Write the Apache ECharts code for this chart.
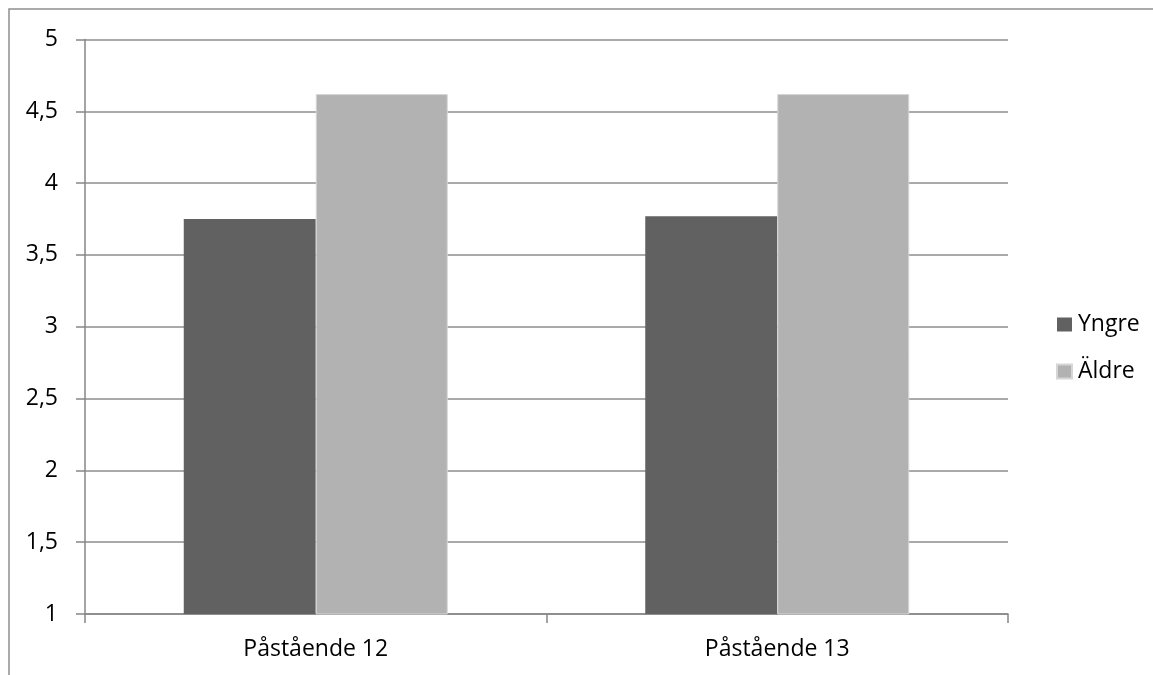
<!DOCTYPE html>
<html>
<head>
<meta charset="utf-8">
<script src="https://cdn.jsdelivr.net/npm/echarts@6/dist/echarts.min.js"></script>
<style>
  html, body { margin: 0; padding: 0; background: #fff; }
  #chart { width: 1153px; height: 675px; }
</style>
</head>
<body>
<div id="chart"></div>
<script>
// Mean scores per statement, younger vs older respondents
const categories = ['Påstående 12', 'Påstående 13'];
const yngre = [3.75, 3.77];
const aldre = [4.62, 4.62];
const seriesNames = ['Yngre', 'Äldre'];

const FONT = '"Open Sans", "Noto Sans", sans-serif';
const chart = echarts.init(document.getElementById('chart'), null, { renderer: 'canvas' });

chart.setOption({
  backgroundColor: '#ffffff',
  animation: false,
  graphic: [{
    type: 'rect',
    shape: { x: 9, y: 9, width: 1300, height: 800 },
    style: { fill: 'none', stroke: '#8e8e8e', lineWidth: 1.5 },
    silent: true
  }],
  grid: { left: 85, top: 39.5, right: 145, bottom: 61, containLabel: false },
  legend: {
    orient: 'vertical',
    left: 1051,
    top: 308,
    itemWidth: 15,
    itemHeight: 14,
    itemGap: 24,
    icon: 'rect',
    textStyle: { fontFamily: FONT, fontSize: 23, lineHeight: 23, color: '#000', padding: [0, 0, 0, 1] },
    data: seriesNames
  },
  xAxis: {
    type: 'category',
    data: categories,
    boundaryGap: true,
    axisLine: { lineStyle: { color: '#868686', width: 1.5 } },
    axisTick: { show: true, length: 9, lineStyle: { color: '#868686', width: 1.5 } },
    axisLabel: { fontFamily: FONT, fontSize: 23, color: '#000', margin: 24 }
  },
  yAxis: {
    type: 'value',
    min: 1,
    max: 5,
    interval: 0.5,
    axisLine: { show: true, lineStyle: { color: '#868686', width: 1.5 } },
    axisTick: { show: true, length: 9, lineStyle: { color: '#868686', width: 1.5 } },
    splitLine: { show: true, lineStyle: { color: '#8c8c8c', width: 1.5 } },
    axisLabel: {
      fontFamily: FONT, fontSize: 23, color: '#000', margin: 27,
      formatter: v => String(v).replace('.', ',')
    }
  },
  series: [
    {
      name: seriesNames[0],
      type: 'bar',
      data: yngre,
      barWidth: 132,
      barGap: '0%',
      itemStyle: { color: '#616161' }
    },
    {
      name: seriesNames[1],
      type: 'bar',
      data: aldre,
      barWidth: 132,
      barGap: '0%',
      itemStyle: { color: '#b2b2b2', borderColor: '#d6d6d6', borderWidth: 1 }
    }
  ]
});
</script>
</body>
</html>
